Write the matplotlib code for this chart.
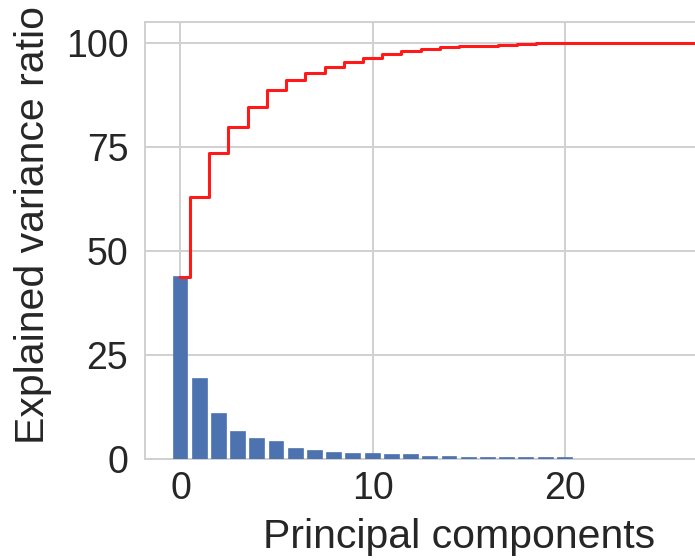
import numpy as np
import matplotlib
matplotlib.use("Agg")
import matplotlib.pyplot as plt

# Explained variance ratio (%) per principal component
components = list(range(30))
explained = [43.7, 19.1, 10.7, 6.3, 4.8, 3.9, 2.4, 1.9, 1.4, 1.1,
             1.0, 0.9, 0.9, 0.45, 0.3, 0.25, 0.2, 0.2, 0.18, 0.17,
             0.15, 0.0, 0.0, 0.0, 0.0, 0.0, 0.0, 0.0, 0.0, 0.0]
cumulative = np.cumsum(explained)

plt.rcParams['font.family'] = ['Liberation Sans', 'DejaVu Sans']
text_color = '#262626'
bar_color = '#4C72B0'

fig = plt.figure(figsize=(6.95, 5.6), dpi=100)
ax = fig.add_axes([0.2086, 0.181, 0.904, 0.780])

edge_widths = [1.2 if v > 0 else 0.0 for v in explained]
ax.bar(components, explained, width=0.72, color=bar_color,
       edgecolor=bar_color, linewidth=edge_widths, zorder=2.6)
ax.step(components, cumulative, where='mid', color='#ff1a1a',
        linewidth=2.2, zorder=3)

ax.set_xticks([0, 10, 20])
ax.set_yticks([0, 25, 50, 75, 100])
ax.grid(True, color='#d0d0d0', linewidth=1.4, zorder=0)
ax.set_axisbelow(True)
for s in ax.spines.values():
    s.set_color('#d0d0d0')
    s.set_linewidth(1.4)

ax.tick_params(axis='both', length=0, labelsize=27, colors=text_color)
ax.tick_params(axis='y', pad=12)
ax.tick_params(axis='x', pad=9)

ax.set_xlabel('Principal components', fontsize=29.5, color=text_color)
ax.set_ylabel('Explained variance ratio', fontsize=29.5, color=text_color)
ax.xaxis.set_label_coords(0.5, -0.135)
ax.yaxis.set_label_coords(-0.148, 0.535)

fig.savefig('out.png', dpi=100)
